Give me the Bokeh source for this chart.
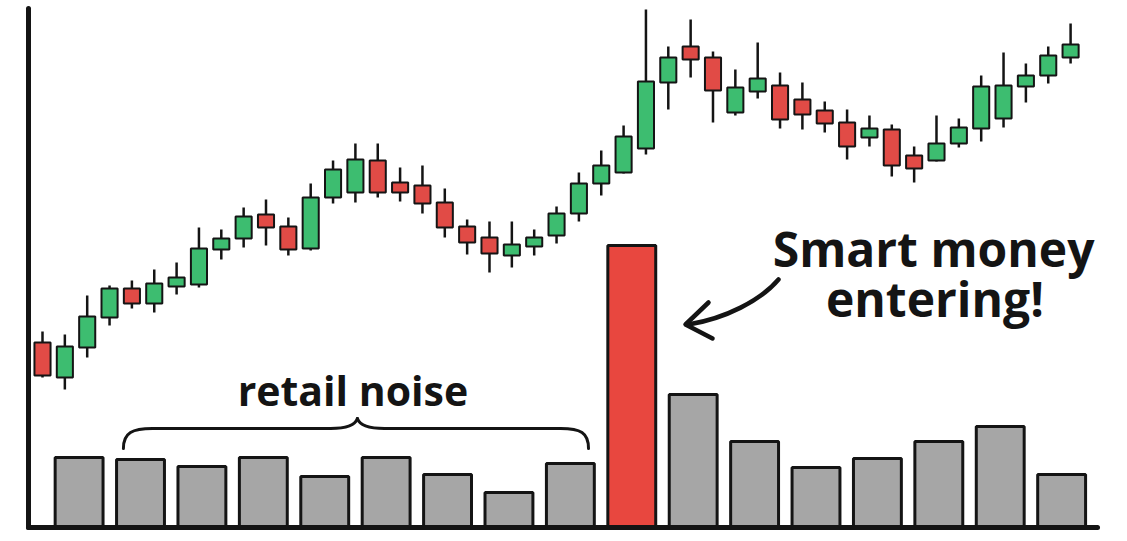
from bokeh.plotting import figure
from bokeh.models import ColumnDataSource, Range1d, FixedTicker
from bokeh.core.properties import value
from bokeh.embed import file_html
from bokeh.resources import INLINE

# ---------------- data ----------------
opens  = [184, 149, 179, 209, 238, 223, 240, 242, 277, 288,
          312, 300, 278, 329, 334, 366, 344, 341, 324, 300,
          289, 271, 280, 291, 313, 343, 354, 378, 444, 480,
          469, 414, 435, 441, 427, 416, 404, 389, 397, 371,
          366, 383, 398, 408, 440, 451, 469]
closes = [151, 180, 210, 238, 223, 243, 249, 278, 288, 310,
          299, 277, 329, 357, 367, 334, 334, 323, 299, 284,
          273, 282, 289, 313, 343, 361, 390, 445, 469, 467,
          436, 439, 448, 407, 412, 403, 380, 398, 361, 358,
          383, 399, 440, 441, 451, 471, 482]
highs  = [195, 192, 231, 241, 246, 257, 264, 299, 297, 319,
          327, 309, 343, 366, 383, 383, 359, 361, 338, 307,
          305, 305, 297, 320, 354, 376, 401, 517, 480, 507,
          475, 457, 484, 454, 444, 425, 417, 411, 402, 380,
          411, 408, 451, 474, 463, 480, 503]
lows   = [149, 137, 169, 201, 218, 214, 232, 239, 267, 279,
          281, 271, 276, 323, 324, 329, 325, 313, 289, 272,
          254, 259, 271, 283, 305, 331, 353, 372, 417, 449,
          404, 411, 428, 398, 397, 394, 367, 380, 350, 344,
          365, 379, 385, 399, 424, 443, 463]
volumes = [69, 67, 60, 69, 50, 69, 52, 34, 63, 281, 132, 85, 59, 68, 85, 100, 52]

label_retail = "retail noise"
label_smart = ["Smart money", "entering!"]

# ---------------- styles ----------------
GREEN = "#3dbd70"
RED = "#e14b46"
VOL_GRAY = "#a6a6a6"
VOL_RED = "#e8473f"
INK = "#141414"

n = len(opens)
candle_src = ColumnDataSource(dict(
    x=list(range(n)),
    high=highs, low=lows,
    top=[max(o, c) for o, c in zip(opens, closes)],
    bottom=[min(o, c) for o, c in zip(opens, closes)],
    color=[GREEN if c >= o else RED for o, c in zip(opens, closes)],
))

vmax = max(volumes)
vol_src = ColumnDataSource(dict(
    x=list(range(len(volumes))),
    top=volumes,
    color=[VOL_RED if v == vmax else VOL_GRAY for v in volumes],
))

p = figure(width=1111, height=533,
           x_range=Range1d(-0.6264, 47.204), y_range=Range1d(-1, 518),
           output_backend="svg", toolbar_location=None,
           min_border_left=28, min_border_right=14,
           min_border_top=8, min_border_bottom=6)
p.extra_x_ranges = {"vol": Range1d(-0.824, 16.584)}

p.background_fill_color = "white"
p.border_fill_color = "white"
p.outline_line_color = None
p.xgrid.visible = False
p.ygrid.visible = False

for ax in (p.xaxis[0], p.yaxis[0]):
    ax.ticker = FixedTicker(ticks=[])
    ax.axis_line_width = 5
    ax.axis_line_color = INK
    ax.axis_line_cap = "round"
    ax.major_tick_line_color = None
    ax.minor_tick_line_color = None
    ax.major_tick_out = 0
    ax.major_tick_in = 0
    ax.minor_tick_out = 0
    ax.minor_tick_in = 0
    ax.major_label_text_font_size = "0px"

# volume bars
p.vbar(x="x", top="top", bottom=0, width=0.78, source=vol_src, x_range_name="vol",
       fill_color="color", line_color=INK, line_width=3)

# candlesticks
p.segment(x0="x", y0="high", x1="x", y1="low", source=candle_src,
          line_color=INK, line_width=2.5)
p.vbar(x="x", top="top", bottom="bottom", width=0.72, source=candle_src,
       fill_color="color", line_color=INK, line_width=2)

# brace over the retail bars
bx0 = [3.62, 4.92, 12.89, 14.09, 15.30, 23.18]
by0 = [78, 98, 98, 108, 98, 98]
bx1 = [4.92, 12.89, 14.09, 15.30, 23.18, 24.43]
by1 = [98, 98, 108, 98, 98, 78]
bcx0 = [3.62, 4.92, 13.69, 14.18, 15.30, 24.07]
bcy0 = [94, 98, 98, 102, 98, 98]
bcx1 = [4.03, 12.89, 14.00, 14.50, 23.18, 24.43]
bcy1 = [98, 98, 102, 98, 98, 94]
p.bezier(x0=bx0, y0=by0, x1=bx1, y1=by1, cx0=bcx0, cy0=bcy0, cx1=bcx1, cy1=bcy1,
         line_color=INK, line_width=3, line_cap="round")

# curved arrow
p.bezier(x0=[32.93], y0=[247], x1=[28.90], y1=[202],
         cx0=[32.13], cy0=[226], cx1=[30.56], cy1=[208],
         line_color=INK, line_width=4.5, line_cap="round")
p.multi_line(xs=[[29.80, 28.77, 29.98]], ys=[[224, 202, 188]],
             line_color=INK, line_width=4.5, line_cap="round", line_join="round")

# texts
p.text(x=[13.89], y=[137], text=[label_retail], text_align="center",
       text_baseline="alphabetic", text_font=value("Open Sans"),
       text_font_style="bold", text_font_size="41px", text_color=INK)
p.text(x=[39.87, 39.93], y=[278, 228], text=label_smart, text_align="center",
       text_baseline="alphabetic", text_font=value("Open Sans"),
       text_font_style="bold", text_font_size="48px", text_color=INK)

open("out.html", "w").write(file_html(p, INLINE))
